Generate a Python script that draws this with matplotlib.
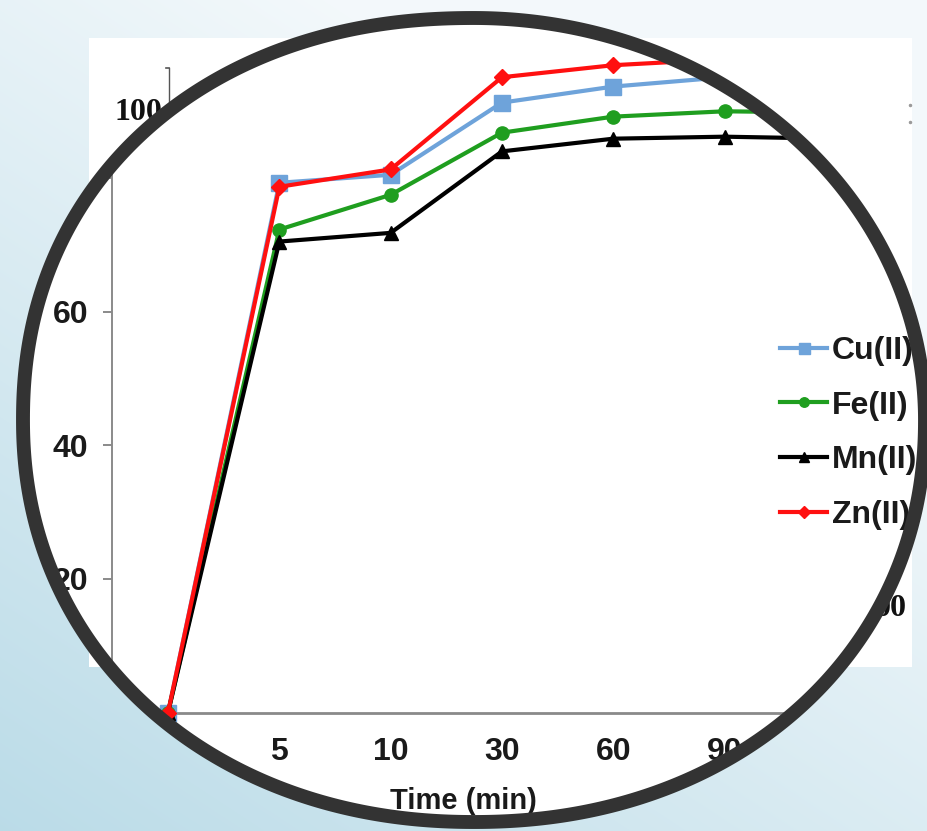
import numpy as np
import matplotlib
matplotlib.use("Agg")
import matplotlib.pyplot as plt
from matplotlib.patches import PathPatch
from matplotlib.path import Path
from matplotlib.lines import Line2D

# Removal (%) over contact time for each metal ion
times = ["0", "5", "10", "30", "60", "90", "120"]
cu = [0, 79.3, 80.5, 91.3, 93.7, 95.1, 95.4]
fe = [0, 72.3, 77.5, 86.8, 89.2, 90.0, 89.8]
mn = [0, 70.5, 71.8, 84.0, 85.9, 86.2, 85.9]
zn = [0, 78.7, 81.3, 95.1, 96.9, 97.8, 98.1]
series_names = ["Cu(II)", "Fe(II)", "Mn(II)", "Zn(II)"]
y_ticks = [0, 20, 40, 60, 80, 100]
y_tick_labels = ["0", "20", "40", "60", "80", "100"]

W, H = 928, 831
SANS = ["Liberation Sans", "DejaVu Sans"]
SERIF = ["Liberation Serif", "DejaVu Serif"]
plt.rcParams["font.family"] = SANS

fig = plt.figure(figsize=(W / 100, H / 100), dpi=100, facecolor="white")

# ---- plot area (pixel geometry of the frame) ----
x_left, x_right = 112.4, 891.5
y_bottom, y_top = 712.5, 44.5
ax = fig.add_axes([x_left / W, 1 - y_bottom / H,
                   (x_right - x_left) / W, (y_bottom - y_top) / H], zorder=1)
ax.set_facecolor("white")

xs = np.arange(len(times))
styles = [
    (cu, "#6ea3da", "s", 11),
    (fe, "#1f9e1f", "o", 9.5),
    (mn, "#000000", "^", 10.5),
    (zn, "#ff1010", "D", 8.5),
]
handles = []
for (vals, col, mk, ms), name in zip(styles, series_names):
    ax.plot(xs, vals, color=col, lw=3.0, marker=mk, ms=ms, mec=col,
            mfc=col, clip_on=False, zorder=3)
    handles.append(Line2D([], [], color=col, lw=3.0, marker=mk,
                          ms=ms * 0.72, mec=col, mfc=col, label=name))

ax.set_xlim(-0.5, len(times) - 0.5)
ax.set_ylim(0, 100)
ax.set_xticks(xs)
ax.set_xticklabels(times)
ax.set_yticks(y_ticks)
ax.set_yticklabels(y_tick_labels)
for s in ("top", "right"):
    ax.spines[s].set_visible(False)
ax.spines["left"].set_color("#8a8a8a")
ax.spines["left"].set_linewidth(1.4)
ax.spines["bottom"].set_color("#8a8a8a")
ax.spines["bottom"].set_linewidth(2.0)
ax.tick_params(axis="y", direction="out", length=6.5, width=1.2,
               color="#777777", pad=11, labelsize=23)
ax.tick_params(axis="x", length=0, pad=18, labelsize=23)
for lab in ax.get_xticklabels() + ax.get_yticklabels():
    lab.set_fontweight("bold")
    lab.set_color("#1a1a1a")

ax.set_xlabel("Time (min)", fontsize=21, fontweight="bold", color="#1a1a1a")
ax.xaxis.label.set_va("center")
ax.xaxis.set_label_coords((463 - x_left) / (x_right - x_left),
                          -(801 - y_bottom) / (y_bottom - y_top))

leg = ax.legend(handles=handles, loc="upper left",
                bbox_to_anchor=((780 - x_left) / (x_right - x_left),
                                (y_bottom - 336) / (y_bottom - y_top)),
                frameon=False, fontsize=23, handlelength=1.48,
                handletextpad=0.15, labelspacing=0.77, borderpad=0,
                borderaxespad=0)
for t in leg.get_texts():
    t.set_fontweight("bold")
    t.set_color("#1a1a1a")

# ---- surrounding slide layer with a rounded window ----
ov = fig.add_axes([0, 0, 1, 1], zorder=5)
ov.set_xlim(0, W)
ov.set_ylim(H, 0)
ov.axis("off")

cx, cy, rx, ry = 474, 420, 451, 402
# squareness exponent per quadrant (screen coords): TL, TR, BR, BL
n_tl, n_tr, n_br, n_bl = 2.15, 2.0, 2.1, 2.1


def quad_exponent(sx, sy):
    return np.where(sy < 0, np.where(sx < 0, n_tl, n_tr),
                    np.where(sx < 0, n_bl, n_br))


def window_level(px, py):
    dx, dy = (px - cx) / rx, (py - cy) / ry
    n = quad_exponent(dx, dy)
    return np.abs(dx) ** n + np.abs(dy) ** n


yy, xx = np.mgrid[0:H, 0:W] + 0.5
t = np.clip(0.75 * (yy / H) + 0.55 * (1 - xx / W) - 0.35, 0, 1)
light = np.array([0.955, 0.975, 0.985])
deep = np.array([0.72, 0.855, 0.905])
rgba = np.ones((H, W, 4))
rgba[..., :3] = light + (deep - light) * t[..., None]
sheet = (xx >= 89) & (xx <= 912) & (yy >= 38) & (yy <= 667)
rgba[sheet, :3] = 1.0
rgba[..., 3] = np.where(window_level(xx, yy) < 1, 0.0, 1.0)
ov.imshow(rgba, extent=(0, W, H, 0), aspect="auto",
          interpolation="bilinear", zorder=0)

# fragments of the underlying figure visible outside the window
ov.text(162, 112, "100", family=SERIF, fontweight="bold", fontsize=23,
        ha="right", va="center", color="#111111", zorder=1)
ov.plot([169, 169], [68, 113], color="#555555", lw=1.0, zorder=1)
ov.plot([166, 169], [68, 68], color="#555555", lw=1.2, zorder=1)
ov.text(907, 608, "00", family=SERIF, fontweight="bold", fontsize=23,
        ha="right", va="center", color="#111111", zorder=1)
ov.plot([910, 910], [105, 122], ls="none", marker="o", ms=1.5,
        color="#9a9a9a", zorder=1)

# dark frame ring
theta = np.linspace(0, 2 * np.pi, 1441)
ct, st = np.cos(theta), np.sin(theta)
n_ring = quad_exponent(ct, st)
ring_x = cx + rx * np.sign(ct) * np.abs(ct) ** (2 / n_ring)
ring_y = cy + ry * np.sign(st) * np.abs(st) ** (2 / n_ring)
ring = PathPatch(Path(np.column_stack([ring_x, ring_y]), closed=True),
                 fill=False, ec="#333333", lw=10, zorder=4)
ov.add_patch(ring)

fig.savefig("out.png", dpi=100, facecolor="white")
